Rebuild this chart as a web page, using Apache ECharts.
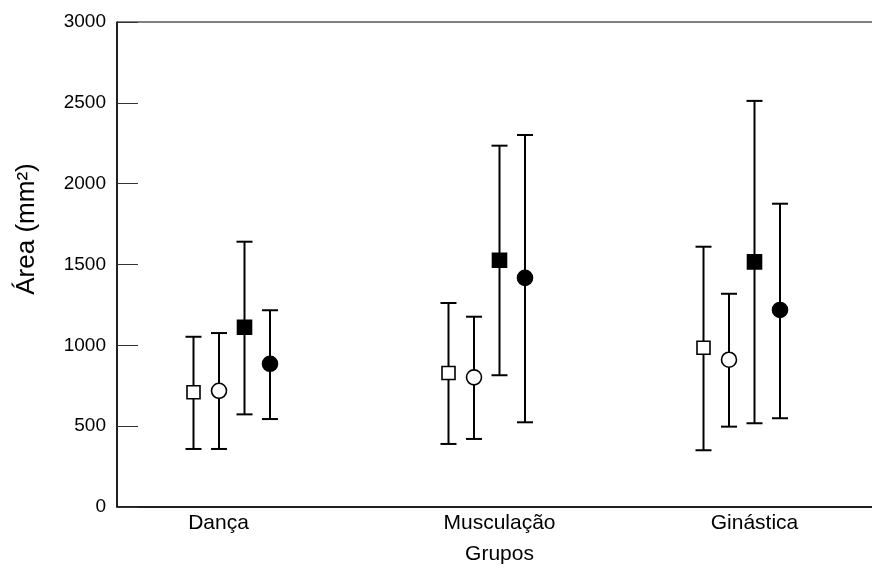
<!DOCTYPE html>
<html>
<head>
<meta charset="utf-8">
<script src="https://cdn.jsdelivr.net/npm/echarts@6/dist/echarts.min.js"></script>
<style>
  html, body { margin: 0; padding: 0; background: #fff; }
  #chart { width: 872px; height: 570px; }
</style>
</head>
<body>
<div id="chart"></div>
<script>
// ---- data ----
var categories = ['Dança', 'Musculação', 'Ginástica'];
var yTicks = [0, 500, 1000, 1500, 2000, 2500, 3000];

var openSquareMean  = [710, 829, 985];
var openSquareUpper = [1053, 1262, 1610];
var openSquareLower = [359, 390, 351];

var openCircleMean  = [719, 802, 911];
var openCircleUpper = [1076, 1177, 1319];
var openCircleLower = [359, 421, 497];

var filledSquareMean  = [1112, 1526, 1516];
var filledSquareUpper = [1641, 2235, 2512];
var filledSquareLower = [573, 815, 518];

var filledCircleMean  = [886, 1417, 1219];
var filledCircleUpper = [1217, 2301, 1876];
var filledCircleLower = [544, 524, 549];

// ---- rendering ----
var FONT = '"Liberation Sans", Arial, sans-serif';

function makeSeries(name, mean, upper, lower, shape, filled, offsetFrac) {
  var data = mean.map(function (m, i) { return [i, m, upper[i], lower[i]]; });
  return {
    type: 'custom',
    name: name,
    data: data,
    encode: { x: 0, y: [1, 2, 3] },
    z: 10,
    renderItem: function (params, api) {
      var ci = api.value(0);
      var band = api.size([1, 0])[0];
      var pMean = api.coord([ci, api.value(1)]);
      var pUp = api.coord([ci, api.value(2)]);
      var pLo = api.coord([ci, api.value(3)]);
      var x = pMean[0] + offsetFrac * band;
      var capHalf = 8;
      var lineStyle = { stroke: '#000', lineWidth: 2 };
      var children = [
        { type: 'line', shape: { x1: x, y1: pUp[1], x2: x, y2: pLo[1] }, style: lineStyle },
        { type: 'line', shape: { x1: x - capHalf, y1: pUp[1], x2: x + capHalf, y2: pUp[1] }, style: lineStyle },
        { type: 'line', shape: { x1: x - capHalf, y1: pLo[1], x2: x + capHalf, y2: pLo[1] }, style: lineStyle }
      ];
      var mStyle = { fill: filled ? '#000' : '#fff', stroke: '#000', lineWidth: 1.6 };
      if (shape === 'square') {
        var s = filled ? 14 : 13;
        children.push({ type: 'rect', shape: { x: x - s / 2, y: pMean[1] - s / 2, width: s, height: s }, style: mStyle });
      } else {
        children.push({ type: 'circle', shape: { cx: x, cy: pMean[1], r: 7.5 }, style: mStyle });
      }
      return { type: 'group', children: children };
    }
  };
}

var chart = echarts.init(document.getElementById('chart'), null, { renderer: 'canvas' });

chart.setOption({
  animation: false,
  backgroundColor: '#fff',
  grid: {
    left: 117, right: -10, top: 22, bottom: 63,
    containLabel: false,
    outerBoundsMode: 'none',
    show: true, borderColor: '#000', borderWidth: 1, backgroundColor: 'transparent'
  },
  xAxis: {
    type: 'category',
    data: categories,
    name: 'Grupos',
    nameLocation: 'middle',
    nameGap: 37,
    nameTextStyle: { fontFamily: FONT, fontSize: 21, color: '#000' },
    axisLine: { lineStyle: { color: '#000', width: 1.5 } },
    axisTick: { show: false },
    axisLabel: {
      fontFamily: FONT, fontSize: 21, color: '#000', margin: 6,
      formatter: function (v) { return v === categories[0] ? '{a|' + v + '}' : v; },
      rich: { a: { fontFamily: FONT, fontSize: 21, color: '#000', padding: [0, 52, 0, 0] } }
    },
    splitLine: { show: false }
  },
  yAxis: {
    type: 'value',
    min: yTicks[0],
    max: yTicks[yTicks.length - 1],
    interval: yTicks[1] - yTicks[0],
    axisLine: { show: true, lineStyle: { color: '#000', width: 1.5 } },
    axisTick: { show: true, inside: true, length: 21, lineStyle: { color: '#333', width: 1 } },
    axisLabel: {
      fontFamily: FONT, fontSize: 19, color: '#000', margin: 11,
      formatter: function (v) { return String(v); }
    },
    splitLine: { show: false }
  },
  graphic: [{
    type: 'text',
    x: 27, y: 229,
    rotation: Math.PI / 2,
    style: {
      text: 'Área (mm²)',
      fontFamily: FONT, fontSize: 26, fill: '#000',
      textAlign: 'center', textVerticalAlign: 'middle'
    }
  }],
  series: [
    makeSeries('open square', openSquareMean, openSquareUpper, openSquareLower, 'square', false, -0.2),
    makeSeries('open circle', openCircleMean, openCircleUpper, openCircleLower, 'circle', false, -0.1),
    makeSeries('filled square', filledSquareMean, filledSquareUpper, filledSquareLower, 'square', true, 0.0),
    makeSeries('filled circle', filledCircleMean, filledCircleUpper, filledCircleLower, 'circle', true, 0.1)
  ]
});
</script>
</body>
</html>
